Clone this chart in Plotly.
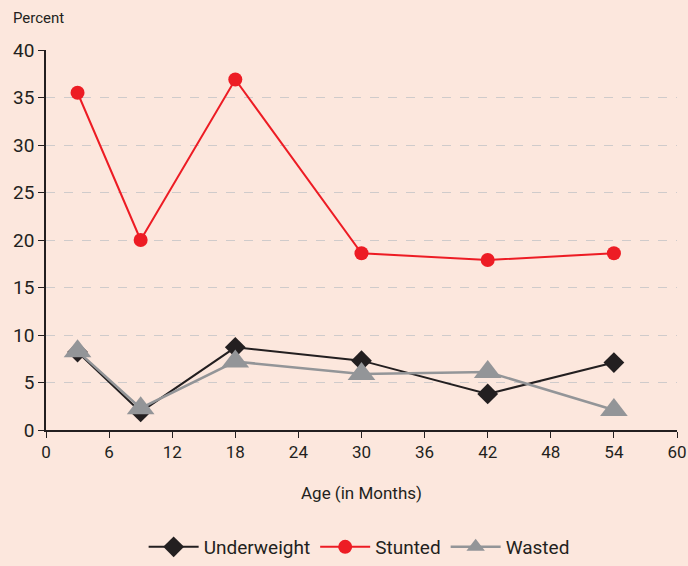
import plotly.graph_objects as go

# Age groups (months) and prevalence (%) of each nutrition indicator
age_months = [3, 9, 18, 30, 42, 54]
underweight = [8.2, 1.9, 8.7, 7.3, 3.8, 7.1]
stunted = [35.5, 20.0, 36.9, 18.6, 17.9, 18.6]
wasted = [8.3, 2.3, 7.2, 5.9, 6.1, 2.1]

x_ticks = [0, 6, 12, 18, 24, 30, 36, 42, 48, 54, 60]
y_ticks = [0, 5, 10, 15, 20, 25, 30, 35, 40]

FONT = "Liberation Sans Narrow, Roboto, sans-serif"
BG = "#FCE7DD"
INK = "#231F20"

fig = go.Figure()
fig.add_trace(go.Scatter(
    x=age_months, y=underweight, name="Underweight", mode="lines+markers",
    line=dict(color=INK, width=2),
    marker=dict(symbol="diamond", size=16, color=INK),
))
fig.add_trace(go.Scatter(
    x=age_months, y=stunted, name="Stunted", mode="lines+markers",
    line=dict(color="#ED1C24", width=2),
    marker=dict(symbol="circle", size=14, color="#ED1C24"),
))
fig.add_trace(go.Scatter(
    x=age_months, y=wasted, name="Wasted", mode="lines+markers",
    line=dict(color="#939598", width=2.5),
    marker=dict(symbol="triangle-up", size=24, color="#939598"),
))

fig.update_layout(
    width=688, height=566,
    margin=dict(l=46, r=11, t=50, b=136, autoexpand=False),
    paper_bgcolor=BG, plot_bgcolor=BG,
    font=dict(family=FONT, color=INK),
    showlegend=True,
    legend=dict(
        orientation="h", x=0.522, xanchor="center", xref="container",
        y=0.0, yanchor="bottom", yref="container",
        font=dict(size=19, family=FONT, color=INK), bgcolor="rgba(0,0,0,0)",
        itemwidth=50, traceorder="normal",
    ),
    annotations=[
        dict(
            text="Percent", xref="paper", yref="paper", x=-0.056, y=1.084,
            xanchor="left", yanchor="middle", showarrow=False,
            font=dict(size=15, family=FONT, color=INK),
        ),
        dict(
            text="Age (in Months)", xref="paper", yref="paper", x=0.5, y=-0.165,
            xanchor="center", yanchor="middle", showarrow=False,
            font=dict(size=17, family=FONT, color=INK),
        ),
    ],
)

fig.update_xaxes(
    range=[0, 60], tickvals=x_ticks, ticktext=[str(v) for v in x_ticks],
    showline=True, linecolor=INK, linewidth=1.5,
    ticks="outside", ticklen=6, tickcolor=INK,
    showgrid=False, zeroline=False, automargin=False,
    tickfont=dict(size=17, family=FONT, color=INK),
)
fig.update_yaxes(
    range=[0, 40], tickvals=y_ticks, ticktext=[str(v) for v in y_ticks],
    showline=True, linecolor=INK, linewidth=1.5,
    ticks="outside", ticklen=6, tickcolor=INK,
    showgrid=True, gridcolor="#CFCBCB", griddash="dash", gridwidth=1,
    zeroline=False, automargin=False,
    tickfont=dict(size=19, family=FONT, color=INK),
)

fig.write_html("out.html")
